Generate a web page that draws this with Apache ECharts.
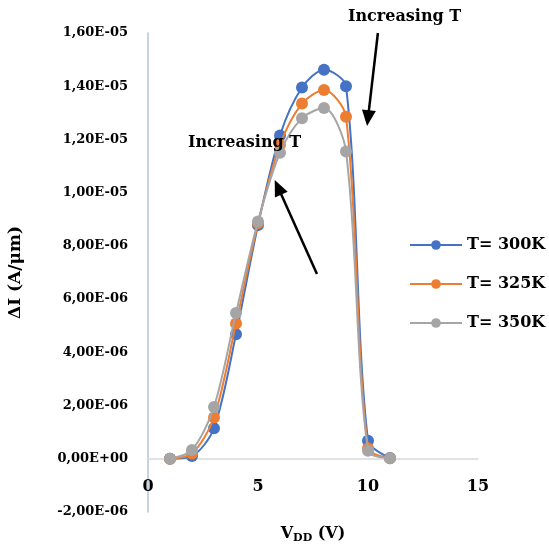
<!DOCTYPE html>
<html>
<head>
<meta charset="utf-8">
<script src="https://cdn.jsdelivr.net/npm/echarts@6/dist/echarts.min.js"></script>
<style>html,body{margin:0;padding:0;background:#fff}#c{width:549px;height:547px}</style>
</head>
<body>
<div id="c"></div>
<script>
const vdd = [1, 2, 3, 4, 5, 6, 7, 8, 9, 10, 11];
const t300 = [0, 1.0e-7, 1.15e-6, 4.68e-6, 8.78e-6, 1.215e-5, 1.395e-5, 1.462e-5, 1.40e-5, 6.8e-7, 3e-8];
const t325 = [0, 2.0e-7, 1.55e-6, 5.08e-6, 8.85e-6, 1.18e-5, 1.335e-5, 1.386e-5, 1.285e-5, 4.0e-7, 2e-8];
const t350 = [0, 3.3e-7, 1.95e-6, 5.48e-6, 8.92e-6, 1.15e-5, 1.28e-5, 1.318e-5, 1.155e-5, 3.0e-7, 2e-8];
const seriesNames = ['T= 300K', 'T= 325K', 'T= 350K'];
const colors = ['#4472C4', '#ED7D31', '#A5A5A5'];
const xTicks = [0, 5, 10, 15];
const yTickLabels = ['-2,00E-06','0,00E+00','2,00E-06','4,00E-06','6,00E-06','8,00E-06','1,00E-05','1,20E-05','1,40E-05','1,60E-05'];
const yMin = -2e-6, yMax = 1.6e-5, yInterval = 2e-6;

const font = 'DejaVu Serif';
const gridH = 479;
// the horizontal axis crosses the vertical one at y = 0
const zeroOffset = -((0 - yMin) / (yMax - yMin)) * gridH;
const chart = echarts.init(document.getElementById('c'));
const data = [t300, t325, t350];
chart.setOption({
  animation: false,
  grid: {left: 148, top: 33, width: 330, height: gridH, outerBoundsMode: 'none', containLabel: false},
  xAxis: {
    type: 'value', min: xTicks[0], max: xTicks[xTicks.length-1], interval: 5,
    position: 'bottom', offset: zeroOffset,
    axisLine: {onZero: false, lineStyle: {color: '#D9D9D9', width: 1.5}},
    axisTick: {show: false},
    splitLine: {show: false},
    axisLabel: {margin: 20, color: '#000', fontFamily: font, fontWeight: 'bold', fontSize: 16},
    name: '{a|V}{b|DD}{a| (V)}', nameLocation: 'middle', nameGap: 66,
    nameTextStyle: {rich: {
      a: {fontFamily: font, fontWeight: 'bold', fontSize: 16, color: '#000'},
      b: {fontFamily: font, fontWeight: 'bold', fontSize: 11, color: '#000', padding: [8, 0, 0, 0]}
    }}
  },
  yAxis: {
    type: 'value', min: yMin, max: yMax, interval: yInterval,
    axisLine: {show: true, onZero: false, lineStyle: {color: '#B4C4DC', width: 1.5}},
    axisTick: {show: false},
    splitLine: {show: false},
    axisLabel: {margin: 20, color: '#000', fontFamily: font, fontWeight: 'bold', fontSize: 13,
      formatter: v => yTickLabels[Math.round((v - yMin) / yInterval)]},
    name: 'ΔI (A/μm)', nameLocation: 'middle', nameGap: 124, nameRotate: 90,
    nameTextStyle: {fontFamily: font, fontWeight: 'bold', fontSize: 17, color: '#000'}
  },
  legend: {
    orient: 'vertical', left: 404, top: 232, itemWidth: 52, itemHeight: 12, itemGap: 23,
    textStyle: {fontFamily: font, fontWeight: 'bold', fontSize: 16, color: '#000'},
    data: seriesNames
  },
  series: data.map((d, i) => ({
    name: seriesNames[i], type: 'line', smooth: 0.3,
    data: vdd.map((x, j) => [x, d[j]]),
    symbol: 'circle', symbolSize: 12,
    itemStyle: {color: colors[i]},
    lineStyle: {color: colors[i], width: 2},
    z: 3 + i,
    markLine: i === 0 ? {
      silent: true, symbol: ['none', 'triangle'], symbolSize: [14, 16],
      lineStyle: {color: '#000', width: 2.5, type: 'solid'}, label: {show: false},
      data: [
        [{coord: [7.68, 6.94e-6]}, {coord: [5.91, 1.02e-5]}],
        [{coord: [10.45, 1.60e-5]}, {coord: [10.0, 1.28e-5]}]
      ]
    } : undefined
  })),
  graphic: [
    {type: 'text', left: 348, top: 9, style: {text: 'Increasing T', font: 'bold 16px "DejaVu Serif"', fill: '#000'}},
    {type: 'text', left: 188, top: 135, z: 10, style: {text: 'Increasing T', font: 'bold 16px "DejaVu Serif"', fill: '#000'}}
  ]
});
</script>
</body>
</html>
